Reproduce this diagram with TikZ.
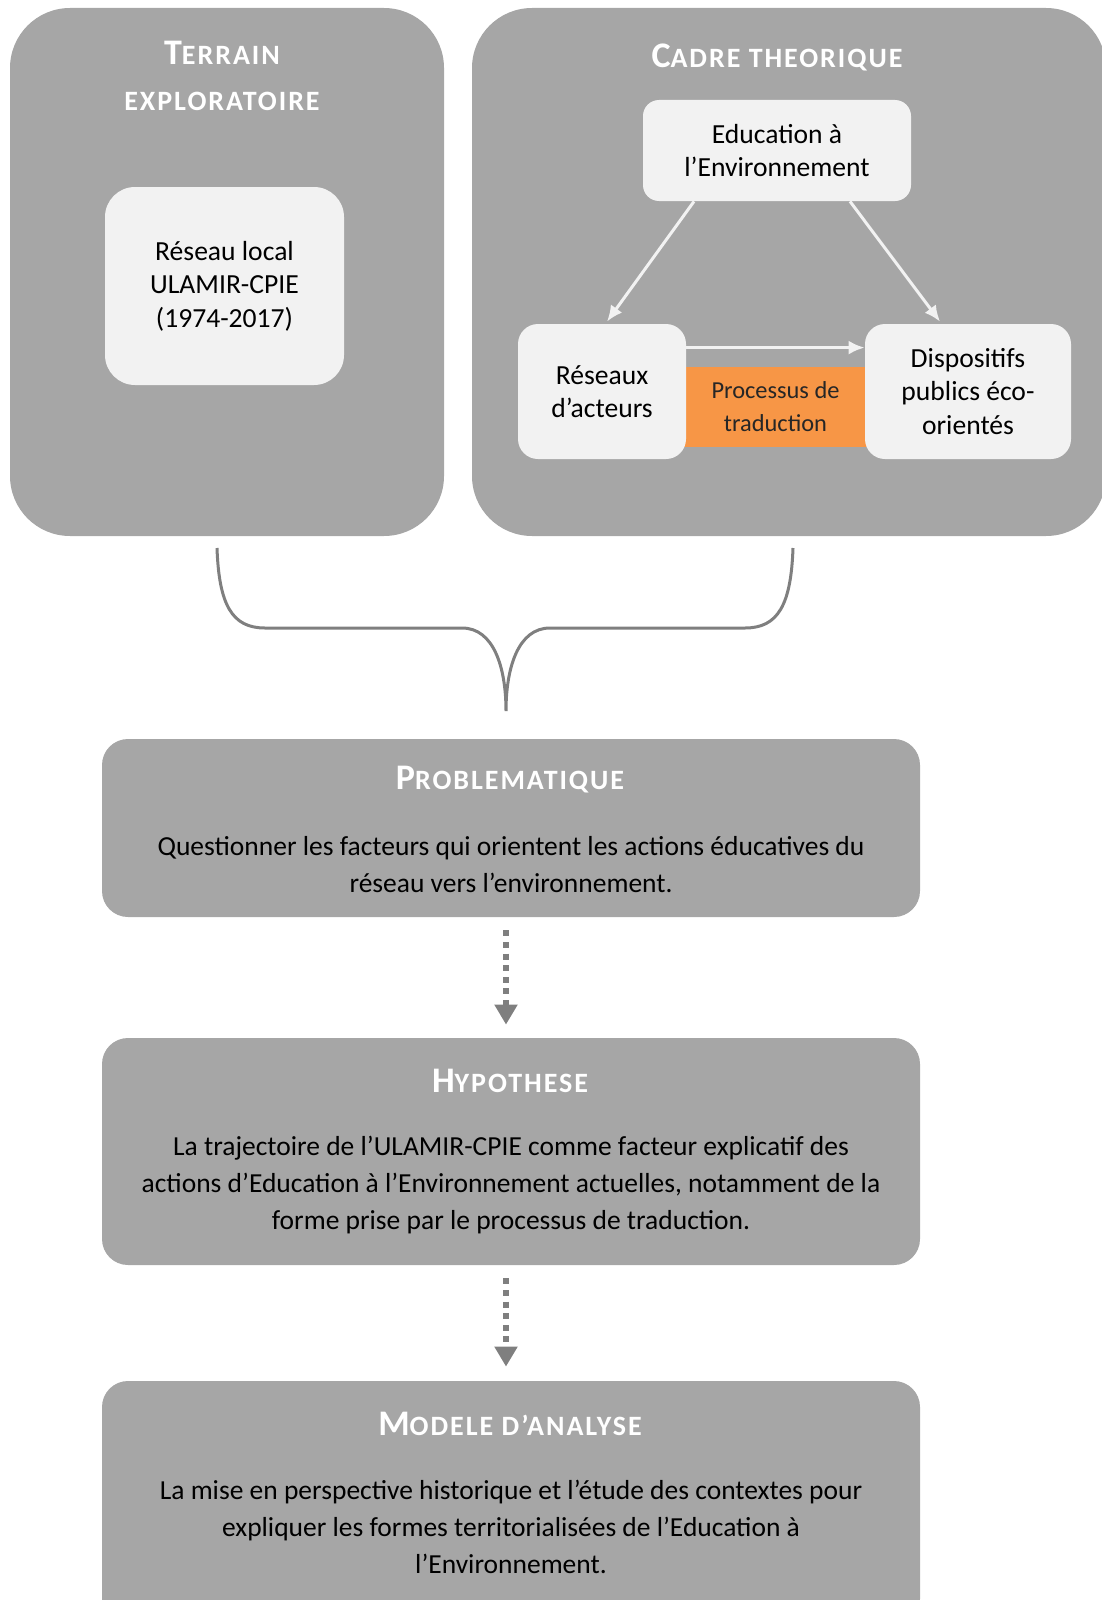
\documentclass[tikz,border=0pt]{standalone}
\usepackage{fontspec}
\setmainfont{Carlito}
\usetikzlibrary{arrows.meta}
\definecolor{gris}{HTML}{A6A6A6}
\definecolor{clair}{HTML}{F2F2F2}
\definecolor{traduc}{HTML}{F79646}
\definecolor{trait}{HTML}{7F7F7F}
\newcommand{\titre}[2]{{\fontsize{18}{20}\selectfont #1}{\fontsize{14}{16}\selectfont #2}}
\tikzstyle{panneau}=[fill=gris,rounded corners=30pt,inner sep=0pt]
\tikzstyle{boite}=[fill=clair,rounded corners=10pt,inner sep=0pt,align=center,text=black,font=\fontsize{13.8}{16.8}\selectfont]
\tikzstyle{cadre}=[fill=gris,rounded corners=13pt,inner sep=0pt,minimum width=409pt]
\tikzstyle{titre}=[text=white,inner sep=0pt,font=\bfseries\addfontfeature{LetterSpace=7}]
\tikzstyle{texte}=[align=center,inner sep=0pt,text=black,font=\fontsize{13.75}{18.5}\selectfont]
\tikzstyle{fleche}=[draw=clair,line width=1.5pt,-{Latex[length=8pt,width=7pt]}]
\tikzstyle{pointille}=[draw=trait,line width=3pt,dash pattern=on 3pt off 2.8pt,-{Triangle[length=10pt,width=11pt]}]
\tikzstyle{accolade}=[draw=trait,line width=1.5pt]
\begin{document}
\begin{tikzpicture}[x=0.5pt,y=-0.5pt]
    \useasboundingbox (0,0) rectangle (1102,1600);
    \clip (0,0) rectangle (1102,1600);
    % les deux panneaux du haut
    \node [panneau,minimum width=217pt,minimum height=264pt] (terrain) at (227,272) {};
    \node [panneau,minimum width=317pt,minimum height=264pt] (cadrth) at (789,272) {};
    \node [titre] (titreterrain) at (222,53) {\titre{T}{ERRAIN}};
    \node [titre,font=\bfseries\addfontfeature{LetterSpace=7}\fontsize{14}{16}\selectfont] (titreexplo) at (222,101) {EXPLORATOIRE};
    \node [titre] (titrecadre) at (777,57) {\titre{C}{ADRE THEORIQUE}};
    \node [boite,rounded corners=15pt,minimum width=119.5pt,minimum height=99pt] (reseaulocal) at (224.5,286)
        {Réseau local\\ULAMIR-CPIE\\(1974-2017)};
    % triangle du cadre theorique
    \node [fill=traduc,minimum width=95pt,minimum height=40pt,inner sep=0pt,align=center,text=black!85,
        font=\fontsize{12.2}{16.5}\selectfont] (traduction) at (775.5,407) {Processus de\\traduction};
    \node [boite,rounded corners=8pt,minimum width=134pt,minimum height=50.5pt] (edu) at (777,150.5)
        {Education à\\l’Environnement};
    \node [boite,minimum width=84pt,minimum height=67.5pt] (acteurs) at (602,391.5) {Réseaux\\d’acteurs};
    \node [boite,minimum width=103pt,minimum height=67.5pt] (dispositifs) at (968,391.5)
        {Dispositifs\\publics éco-\\orientés};
    \draw [fleche] ([xshift=-41.5pt]edu.south) -- ([xshift=2.5pt,yshift=1pt]acteurs.north);
    \draw [fleche] ([xshift=36.5pt]edu.south) -- ([xshift=-14pt,yshift=1pt]dispositifs.north);
    \draw [fleche] ([yshift=-12pt]acteurs.north east) -- ([yshift=-12pt]dispositifs.north west);
    % accolade
    \coordinate (accg) at (217,548);
    \coordinate (accd) at (793,548);
    \coordinate (pointe) at (506,711);
    \draw [accolade] (accg) .. controls (219,605) and (232,628) .. (265,628) -- (462,628)
        .. controls (494,628) and (506,668) .. (pointe)
        .. controls (506,668) and (518,628) .. (550,628) -- (745,628)
        .. controls (778,628) and (791,605) .. (accd);
    % les cadres du bas
    \node [cadre,minimum height=89pt] (prob) at (511,828) {};
    \node [titre] (titreprob) at (510,780) {\titre{P}{ROBLEMATIQUE}};
    \node [texte] (texteprob) at (511,865)
        {Questionner les facteurs qui orientent les actions éducatives du\\réseau vers l’environnement.};
    \node [cadre,minimum height=113.5pt] (hyp) at (511,1151.5) {};
    \node [titre] (titrehyp) at (510,1081) {\titre{H}{YPOTHESE}};
    \node [texte] (textehyp) at (511,1185)
        {La trajectoire de l’ULAMIR-CPIE comme facteur explicatif des\\actions d’Education à l’Environnement actuelles, notamment de la\\forme prise par le processus de traduction.};
    \node [cadre,minimum height=122pt] (modele) at (511,1503) {};
    \node [titre] (titremodele) at (510,1424) {\titre{M}{ODELE D’ANALYSE}};
    \node [texte] (textemodele) at (511,1527)
        {La mise en perspective historique et l’étude des contextes pour\\expliquer les formes territorialisées de l’Education à\\l’Environnement.};
    \draw [pointille] ([xshift=-2.5pt,yshift=-6.5pt]prob.south) -- ([xshift=-2.5pt,yshift=6.5pt]hyp.north);
    \draw [pointille] ([xshift=-2.5pt,yshift=-6.5pt]hyp.south) -- ([xshift=-2.5pt,yshift=7pt]modele.north);
\end{tikzpicture}
\end{document}
